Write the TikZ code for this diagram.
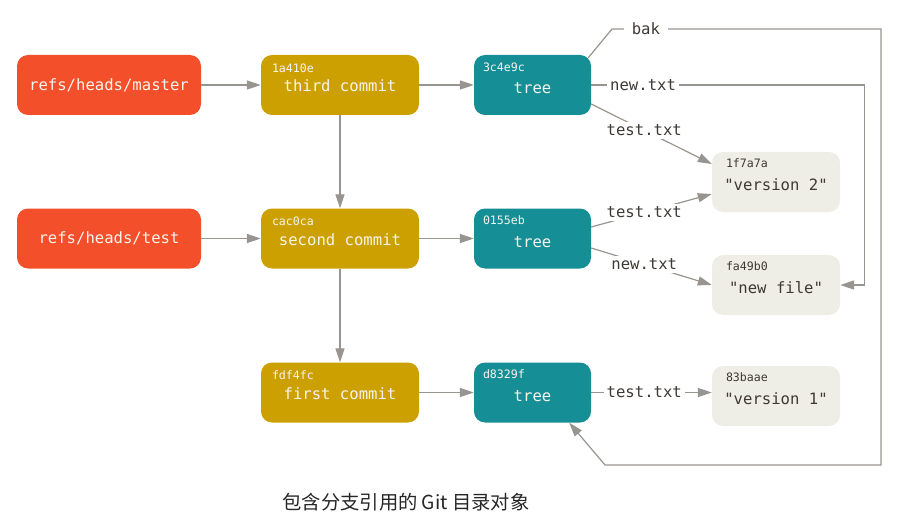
\documentclass[tikz,border=0pt]{standalone}
\usepackage{fontspec}
\setmonofont{DejaVu Sans Mono}
\newfontfamily\cjkfont{Noto Sans CJK SC}
\usetikzlibrary{arrows.meta,calc}

\definecolor{refred}{RGB}{243,79,42}
\definecolor{commitgold}{RGB}{204,160,0}
\definecolor{treeteal}{RGB}{22,142,150}
\definecolor{blobgray}{RGB}{238,237,230}
\definecolor{linkgray}{RGB}{152,148,143}
\definecolor{inktext}{RGB}{62,57,52}
\definecolor{boxtext}{RGB}{246,244,238}

\tikzset{
  box/.style={rounded corners=11pt,minimum height=60pt,inner sep=0pt,text=boxtext,font=\ttfamily\fontsize{15.6}{18}\selectfont},
  refbox/.style={box,fill=refred,minimum width=184pt},
  commitbox/.style={box,fill=commitgold,minimum width=158pt,text height=13.5pt,text depth=0pt},
  treebox/.style={box,fill=treeteal,minimum width=117pt,text height=17pt,text depth=0pt},
  blobbox/.style={box,fill=blobgray,minimum width=128pt,text=inktext,text height=16pt,text depth=0pt},
  hash/.style={anchor=west,inner sep=0pt,text=boxtext,font=\ttfamily\fontsize{11.6}{13}\selectfont},
  link/.style={draw=linkgray,line width=1.2pt,-{Triangle[length=14pt,width=9pt]}},
  entry/.style={fill=white,inner sep=3pt,text=inktext,font=\ttfamily\fontsize{15.6}{18}\selectfont},
}

\begin{document}
\begin{tikzpicture}[x=1pt,y=-1pt]
  \useasboundingbox (0,0) rectangle (910,532);

  % branches
  \node[refbox] (master) at (109,85) {refs/heads/master};
  \node[refbox] (test) at (109,238.5) {refs/heads/test};

  % commits
  \node[commitbox] (c3) at (340,85) {third commit};
  \node[commitbox] (c2) at (340,238.5) {second commit};
  \node[commitbox] (c1) at (340,392.5) {first commit};
  \node[hash] (c3h) at ($(c3.north west)+(11,13)$) {1a410e};
  \node[hash] (c2h) at ($(c2.north west)+(11,13)$) {cac0ca};
  \node[hash] (c1h) at ($(c1.north west)+(11,13)$) {fdf4fc};

  % trees
  \node[treebox] (t3) at (532.5,85) {tree};
  \node[treebox] (t2) at (532.5,238.5) {tree};
  \node[treebox] (t1) at (532.5,392.5) {tree};
  \node[hash] (t3h) at ($(t3.north west)+(9,12)$) {3c4e9c};
  \node[hash] (t2h) at ($(t2.north west)+(9,12)$) {0155eb};
  \node[hash] (t1h) at ($(t1.north west)+(9,12)$) {d8329f};

  % blobs
  \node[blobbox] (v2) at (776,182) {"version 2"};
  \node[blobbox] (nf) at (776,285) {"new file"};
  \node[blobbox] (v1) at (776,396) {"version 1"};
  \node[hash,text=inktext] (v2h) at ($(v2.north west)+(14,11)$) {1f7a7a};
  \node[hash,text=inktext] (nfh) at ($(nf.north west)+(14,11)$) {fa49b0};
  \node[hash,text=inktext] (v1h) at ($(v1.north west)+(14,11)$) {83baae};

  \node[font=\cjkfont\fontsize{19.3}{21}\selectfont,text=black!85] (caption) at (406,502) {包含分支引用的 Git 目录对象};

  \coordinate (bakbend) at (612,29);
  \coordinate (loopne) at (881,29);
  \coordinate (loopse) at (881,465);
  \coordinate (loopsw) at (605,465);

  \draw[link] (master) -- (c3);
  \draw[link] (test) -- (c2);
  \draw[link] (c3) -- (c2);
  \draw[link] (c2) -- (c1);
  \draw[link] (c3) -- (t3);
  \draw[link] (c2) -- (t2);
  \draw[link] (c1) -- (t1);

  \draw[link] (t3.east) -- node[pos=0.19,entry] {new.txt} ++(273,0) |- (nf.east);
  \draw[link] ($(t3.east)+(0,19)$) -- node[pos=0.44,entry] {test.txt} ($(v2.west)+(0,-18)$);
  \draw[link] ($(t2.east)+(0,-11.5)$) -- node[pos=0.44,entry] {test.txt} ($(v2.west)+(0,12)$);
  \draw[link] ($(t2.east)+(0,9.5)$) -- node[pos=0.44,entry] {new.txt} (nf.west);
  \draw[link] (t1.east) -- node[pos=0.44,entry] {test.txt} (t1.east -| v1.west);
  \draw[link] ($(t3.north east)+(-3,3)$) -- (bakbend) -- node[pos=0.126,entry,inner xsep=8pt] {bak} (loopne) -- (loopse) -- (loopsw) -- ($(t1.south east)+(-22,0)$);
\end{tikzpicture}
\end{document}
